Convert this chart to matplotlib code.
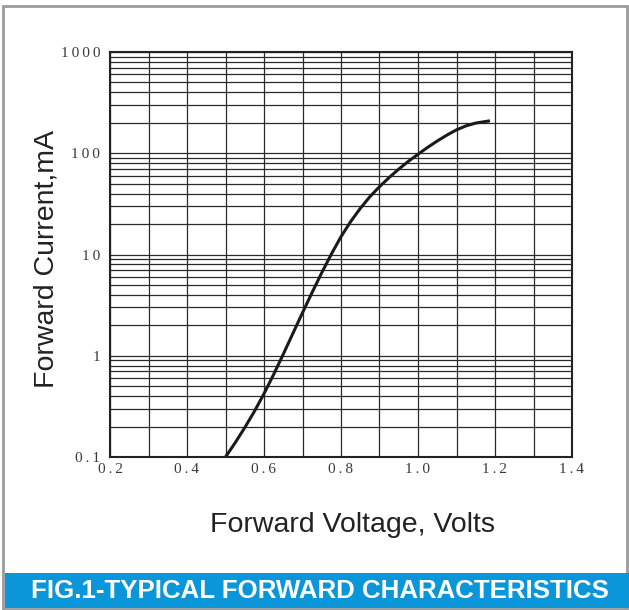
import matplotlib
matplotlib.use('Agg')
import matplotlib.pyplot as plt
from matplotlib.patches import Rectangle
import numpy as np

# forward voltage (V) vs forward current (mA)
volts = [0.500, 0.525, 0.550, 0.575, 0.600, 0.625, 0.650, 0.675, 0.700, 0.725,
         0.750, 0.775, 0.800, 0.825, 0.850, 0.875, 0.900, 0.925, 0.950, 0.975,
         1.000, 1.025, 1.050, 1.075, 1.100, 1.125, 1.150, 1.183]
current_ma = [0.1, 0.138, 0.195, 0.282, 0.422, 0.653, 1.035, 1.66, 2.66, 4.22,
              6.61, 10.1, 15.0, 21.1, 28.5, 37.2, 46.8, 57.5, 69.7, 83.2,
              97.7, 114.3, 132.1, 151, 170.2, 186.6, 198.6, 208]

x_ticks = [0.2, 0.4, 0.6, 0.8, 1.0, 1.2, 1.4]
x_labels = ['0.2', '0.4', '0.6', '0.8', '1.0', '1.2', '1.4']
y_ticks = [0.1, 1, 10, 100, 1000]
y_labels = ['0.1', '1', '10', '100', '1000']


def spaced(s):
    # the original tick labels are letter-spaced
    return '\u2009'.join(s)


fig = plt.figure(figsize=(6.29, 6.10), dpi=100)

# grey outer frame and blue caption banner
fig.patches.append(Rectangle((3.5/629, 1.5/610), 623/629, 603/610, transform=fig.transFigure,
                             fill=False, edgecolor='#9a9a9a', linewidth=2))
fig.patches.append(Rectangle((4.5/629, 2/610), 625/629, 35/610, transform=fig.transFigure,
                             facecolor='#0a96d8', edgecolor='none'))
fig.text(0.508, 19/610, 'FIG.1-TYPICAL FORWARD CHARACTERISTICS', color='white',
         fontsize=18.6, fontweight='bold', ha='center', va='center',
         family=['Liberation Sans', 'DejaVu Sans'])

ax = fig.add_axes([110/629, 1 - 457/610, 462/629, 405/610])
ax.set_yscale('log')
ax.set_xlim(0.2, 1.4)
ax.set_ylim(0.1, 1000)

ax.plot(volts, current_ma, color='#1a1a1a', linewidth=2.2, solid_joinstyle='round')

ax.set_xticks(np.arange(0.2, 1.41, 0.1), minor=True)
ax.set_xticks(x_ticks)
ax.set_xticklabels([spaced(s) for s in x_labels], family='Liberation Serif',
                   fontsize=11, color='#3a3a3a')
ax.set_yticks(y_ticks)
ax.set_yticklabels([spaced(s) for s in y_labels], family='Liberation Serif',
                   fontsize=11, color='#3a3a3a')
ax.tick_params(which='both', length=0)
ax.tick_params(axis='y', pad=7)
ax.tick_params(axis='x', pad=4)
ax.grid(True, which='both', axis='x', color='#2a2a2a', linewidth=0.9)
ax.grid(True, which='both', axis='y', color='#2a2a2a', linewidth=0.9)
for s in ax.spines.values():
    s.set_linewidth(1.5)
    s.set_color('#222222')

fig.text(352/629, 1 - 525/610, 'Forward Voltage, Volts', family='Liberation Sans',
         fontsize=20.5, color='#222222', ha='center', va='center')
fig.text(47/629, 1 - 259/610, 'Forward Current,mA', family='Liberation Sans',
         fontsize=20.5, color='#222222', ha='center', va='center', rotation=90)

fig.savefig('out.png', dpi=100)
